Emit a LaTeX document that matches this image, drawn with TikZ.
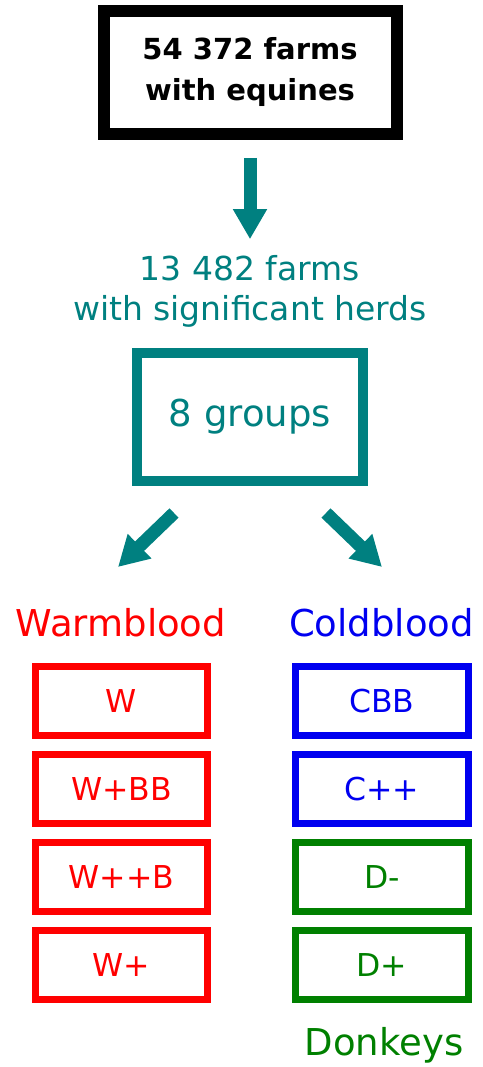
\documentclass[tikz,border=0pt]{standalone}
\usepackage{fontspec}
\setmainfont{DejaVu Sans}
\usetikzlibrary{arrows.meta,positioning}
\usepackage{xcolor}
\definecolor{farmteal}{RGB}{0,128,128}
\definecolor{warmred}{RGB}{255,0,0}
\definecolor{coldblue}{RGB}{0,0,240}
\definecolor{donkeygreen}{RGB}{0,128,0}

\begin{document}
\begin{tikzpicture}[
    x=1pt, y=-1pt,
    node distance=88pt,
    box/.style={draw, rectangle, text centered, inner sep=0pt},
    breed/.style={box, line width=7pt, minimum width=172.5pt, minimum height=69pt, font=\fontsize{31.5}{38}\selectfont},
    heading/.style={anchor=base, inner sep=0pt, font=\fontsize{37}{44}\selectfont},
    bigarrow/.style={farmteal, line width=13pt, -{Triangle[length=30pt, width=32pt]}}
]
\useasboundingbox (0,0) rectangle (482,1067);
\node (farms) [box, line width=12pt, minimum width=293pt, minimum height=123pt, align=center, font=\bfseries\fontsize{29}{41}\selectfont] at (250,72.5) {54 372 farms\\with equines};
\node (herds) [farmteal, align=center, inner sep=0pt, font=\fontsize{33}{40}\selectfont] at (250,291.4) {13 482 farms\\with significant herds};
\node (groups) [box, farmteal, line width=10pt, minimum width=226pt, minimum height=128pt, font=\fontsize{37}{44}\selectfont] at (250,417) {8 groups};

\coordinate (warmtail) at (174,513);
\coordinate (warmtip) at (118,567);
\coordinate (coldtail) at (326,513);
\coordinate (coldtip) at (382,567);

\node (warm) [heading, warmred] at (121,636) {Warmblood};
\node (cold) [heading, coldblue] at (381.5,636) {Coldblood};

\node (w) [breed, warmred] at (121.5,701) {W};
\node (wbb) [breed, warmred, below of=w] {W+BB};
\node (wwb) [breed, warmred, below of=wbb] {W++B};
\node (wp) [breed, warmred, below of=wwb] {W+};

\node (cbb) [breed, coldblue] at (382,701) {CBB};
\node (cpp) [breed, coldblue, below of=cbb] {C++};
\node (dm) [breed, donkeygreen, below of=cpp] {D-};
\node (dp) [breed, donkeygreen, below of=dm] {D+};
\node (donkeys) [heading, donkeygreen] at (384,1055) {Donkeys};

\draw [bigarrow, shorten <=18pt, shorten >=16pt] (farms) -- (herds);
\draw [bigarrow] (warmtail) -- (warmtip);
\draw [bigarrow] (coldtail) -- (coldtip);
\end{tikzpicture}
\end{document}
